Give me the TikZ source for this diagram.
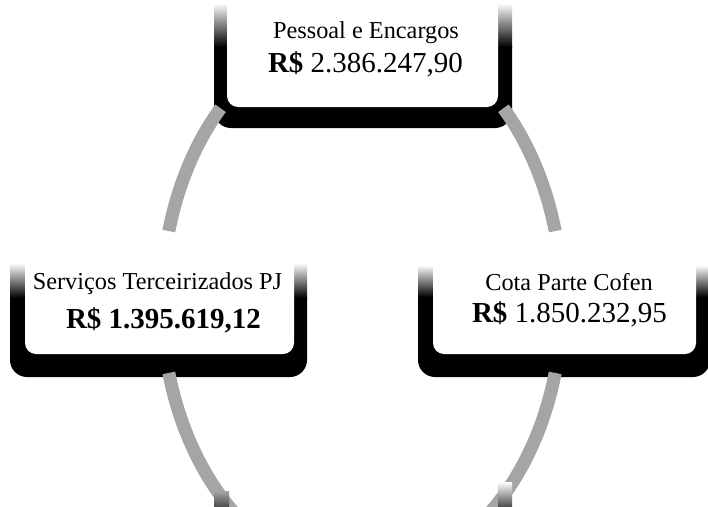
\documentclass[tikz,border=0pt]{standalone}
\usepackage{fontspec}
\setmainfont{Liberation Serif}
\definecolor{arcgray}{HTML}{A5A5A5}
\definecolor{fadegray}{HTML}{505050}
\begin{document}
\begin{tikzpicture}[x=1pt,y=-1pt,
  arcline/.style={draw=arcgray,line width=13pt},
  lbl/.style={anchor=base,inner sep=0pt,font=\fontsize{24.3}{28}\selectfont},
  val/.style={anchor=base,inner sep=0pt,font=\fontsize{29}{33}\selectfont}]
\useasboundingbox (0,0) rectangle (708,506);
\clip (0,0) rectangle (708,506);
\fill[white] (0,0) rectangle (708,506);

% Top box
\begin{scope}
  \clip[rounded corners=17pt] (214,-60) rectangle (512,128);
  \fill[black] (210,46) rectangle (516,130);
  \shade[top color=white,bottom color=black] (210,3) rectangle (516,47);
\end{scope}
\fill[white,rounded corners=11pt] (227,-60) rectangle (498,107);

% Left box
\begin{scope}
  \clip[rounded corners=17pt] (10,200) rectangle (307,377);
  \fill[black] (6,297) rectangle (311,380);
  \shade[top color=white,bottom color=black] (6,263) rectangle (311,298);
\end{scope}
\fill[white,rounded corners=11pt] (25,200) rectangle (294,354);

% Right box
\begin{scope}
  \clip[rounded corners=17pt] (418,200) rectangle (710,377);
  \fill[black] (414,296) rectangle (714,380);
  \shade[top color=white,bottom color=black] (414,265) rectangle (714,297);
\end{scope}
\fill[white,rounded corners=11pt] (433,200) rectangle (696,354);

% texts
\node[lbl] (t1) at (366,38) {Pessoal e Encargos};
\node[val] (v1) at (365.5,72) {\textbf{R\$} 2.386.247,90};
\node[lbl] (t2) at (157.5,289) {Serviços Terceirizados PJ};
\node[val] (v2) at (163.5,328) {\textbf{R\$ 1.395.619,12}};
\node[lbl] (t3) at (569,290) {Cota Parte Cofen};
\node[val] (v3) at (569.5,322) {\textbf{R\$} 1.850.232,95};

% cycle arcs (ellipse centre c)
\coordinate (c) at (362,302);
\draw[arcline] (c) ++(225:200 and 274) arc[start angle=225,end angle=195,x radius=200,y radius=274];
\draw[arcline] (c) ++(315:200 and 274) arc[start angle=315,end angle=345,x radius=200,y radius=274];
\draw[arcline] (c) ++(165:200 and 274) arc[start angle=165,end angle=125,x radius=200,y radius=274];
\draw[arcline] (c) ++(15:200 and 274) arc[start angle=15,end angle=55,x radius=200,y radius=274];

% faded tops of boxes below the frame
\shade[top color=arcgray,bottom color=fadegray] (214,491) rectangle (229,506);
\shade[top color=white,bottom color=fadegray] (498,482) rectangle (512,506);
\end{tikzpicture}
\end{document}
